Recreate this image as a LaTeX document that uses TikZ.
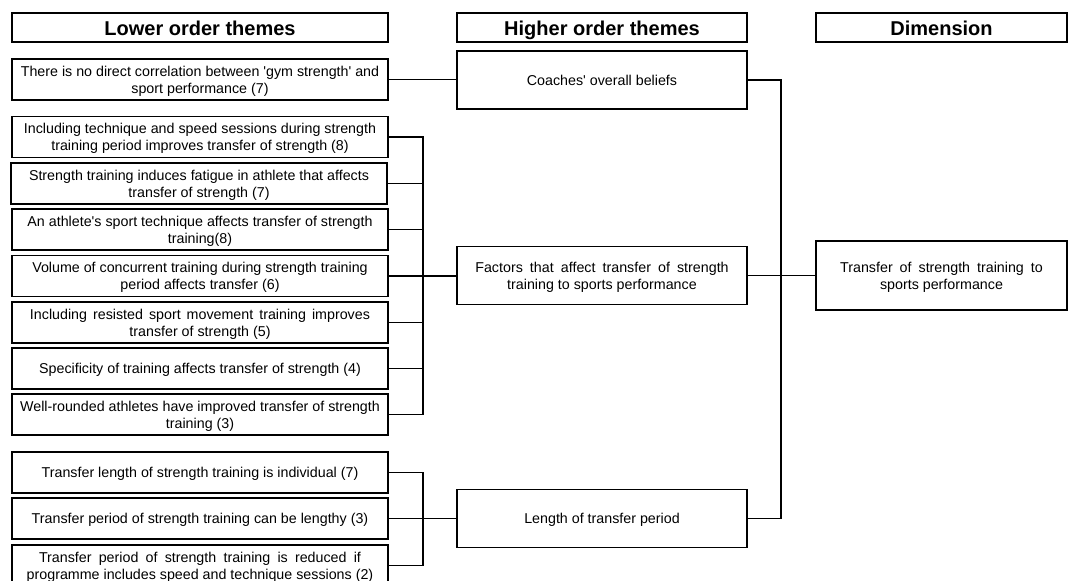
\documentclass[tikz,border=0pt]{standalone}
\usepackage{fontspec}
\setmainfont{Liberation Sans}
\usepackage{tikz}
\tikzset{
	head/.style     = {draw, line width=1.3pt, rectangle, minimum height = 21.75pt,
		inner sep=0pt, text height=13pt, text depth=1pt,
		font=\fontsize{15}{18}\selectfont\bfseries},
	lowbox/.style   = {draw, line width=1.3pt, rectangle, minimum width = 282pt,
		minimum height = 30.75pt, align=center, inner sep=0pt, text depth=0pt,
		font=\fontsize{10.7}{12.75}\selectfont},
	highbox/.style  = {draw, line width=1.3pt, rectangle, minimum width = 217.5pt,
		minimum height = 43.5pt, align=center, inner sep=0pt, text depth=0pt,
		font=\fontsize{10.7}{12.75}\selectfont},
	dimbox/.style   = {draw, line width=1.3pt, rectangle, minimum width = 188.25pt,
		minimum height = 51.75pt, align=center, inner sep=0pt, text depth=0pt,
		font=\fontsize{10.7}{12.75}\selectfont},
	link/.style     = {line width=1pt}
}
% justified line of a given width
\newcommand{\spread}[2]{\makebox[#1][s]{#2}}
\newcommand{\q}{\textquotesingle}

\begin{document}
\begin{tikzpicture}[x=0.75pt, y=-0.75pt]
	\clip (0,0) rectangle (1068,581);
	\draw
	node at (200,27.5) [head, minimum width=282pt] (hl) {Lower order themes}
	node at (602,27.5) [head, minimum width=217.5pt] (hh) {Higher order themes}
	node at (941.5,27.5) [head, minimum width=188.25pt] (hd) {Dimension};

	\draw
	node at (200,79.5) [lowbox] (l1) {There is no direct correlation between \q gym strength\q{} and\\ sport performance (7)}
	node at (200,137) [lowbox] (l2) {Including technique and speed sessions during strength\\ training period improves transfer of strength (8)}
	node at (199,183.5) [lowbox] (l3) {Strength training induces fatigue in athlete that affects\\ transfer of strength (7)}
	node at (200,229.5) [lowbox] (l4) {An athlete\q s sport technique affects transfer of strength\\ training(8)}
	node at (200,276) [lowbox] (l5) {Volume of concurrent training during strength training\\ period affects transfer (6)}
	node at (200,322.5) [lowbox] (l6) {\spread{255pt}{Including resisted sport movement training improves}\\ transfer of strength (5)}
	node at (200,368.5) [lowbox] (l7) {Specificity of training affects transfer of strength (4)}
	node at (200,414.5) [lowbox] (l8) {Well-rounded athletes have improved transfer of strength\\ training (3)}
	node at (200,472.5) [lowbox] (l9) {Transfer length of strength training is individual (7)}
	node at (200,518.5) [lowbox] (l10) {Transfer period of strength training can be lengthy (3)}
	node at (200,565.5) [lowbox] (l11) {\spread{241.5pt}{Transfer period of strength training is reduced if}\\ programme includes speed and technique sessions (2)};

	\draw
	node at (602,80) [highbox] (h1) {Coaches\q{} overall beliefs}
	node at (602,275.5) [highbox] (h2) {\spread{190pt}{Factors that affect transfer of strength}\\ training to sports performance}
	node at (602,518.5) [highbox] (h3) {Length of transfer period}
	node at (941.5,275.5) [dimbox] (dim) {\spread{152pt}{Transfer of strength training to}\\ sports performance};

	\coordinate (j1) at (423,276);
	\coordinate (j2) at (423,518.5);
	\coordinate (j3) at (781,275.5);

	\draw[link](l1.east)--(l1.east -| h1.west);
	\draw[link](l2.east)-|(j1);
	\draw[link](l3.east)-|(j1);
	\draw[link](l4.east)-|(j1);
	\draw[link](l5.east)-|(j1);
	\draw[link](l6.east)-|(j1);
	\draw[link](l7.east)-|(j1);
	\draw[link](l8.east)-|(j1);
	\draw[link](j1)--(j1 -| h2.west);
	\draw[link](l9.east)-|(j2);
	\draw[link](l10.east)-|(j2);
	\draw[link](l11.east)-|(j2);
	\draw[link](j2)--(h3.west);
	\draw[link](h1.east)-|(j3);
	\draw[link](h2.east)--(j3);
	\draw[link](h3.east)-|(j3);
	\draw[link](j3)--(dim.west);
\end{tikzpicture}
\end{document}
